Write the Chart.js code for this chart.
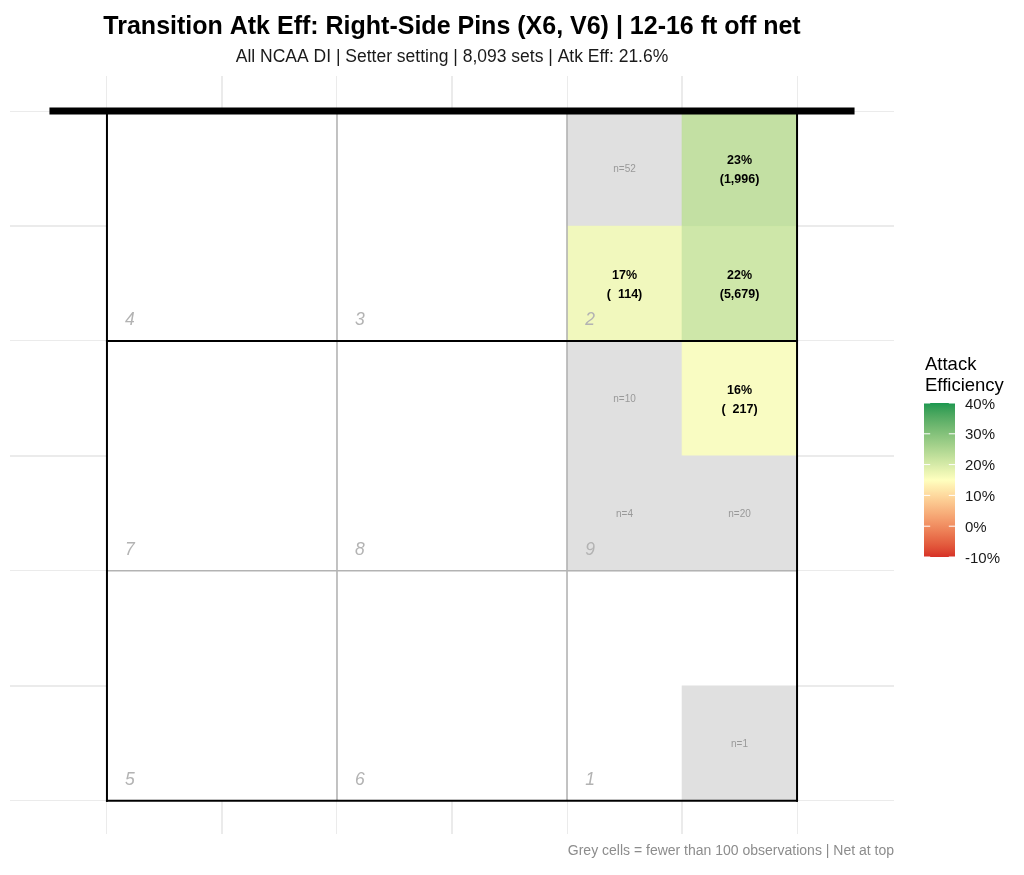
<!DOCTYPE html>
<html>
<head>
<meta charset="utf-8">
<title>Transition Atk Eff: Right-Side Pins</title>
<script src="https://cdn.jsdelivr.net/npm/chart.js@4.4.1/dist/chart.umd.min.js"></script>
<style>
  html, body { margin: 0; padding: 0; background: #fff; }
  #wrap { position: relative; width: 1024px; height: 875px; }
</style>
</head>
<body>
<div id="wrap"><canvas id="courtChart"></canvas></div>
<script>
// ---------------------- data ---------------------
// cells on a 6x6 court grid, col 0 = left, row 0 = end line, row 6 = net
var cellCol = [4, 5, 4, 5, 4, 5, 4, 5, 5];
var cellRow = [5, 5, 4, 4, 3, 3, 2, 2, 0];
var cellN   = [52, 1996, 114, 5679, 10, 217, 4, 20, 1];
var cellEff = [null, 0.232, 0.170, 0.216, null, 0.158, null, null, null];
var minObs = 100;

var zoneNames = ["4", "3", "2", "7", "8", "9", "5", "6", "1"];
var zoneCol = [0, 2, 4, 0, 2, 4, 0, 2, 4];
var zoneRow = [4, 4, 4, 2, 2, 2, 0, 0, 0];

// court geometry
var zoneLinesX = [2, 4];
var zoneLinesY = [2];
var courtLinesX = [0, 6];
var courtLinesY = [0, 4];
var courtSize = 6;
var netY = 6;
var netEnds = [-0.5, 6.5];

var gridBreaks = [0, 1, 2, 3, 4, 5, 6];
var legendBreaks = [0.4, 0.3, 0.2, 0.1, 0, -0.1];
var legendLabels = ["40%", "30%", "20%", "10%", "0%", "-10%"];
var effLimits = [-0.1, 0.4];
var effMid = 0.15;

var titleText = "Transition Atk Eff: Right-Side Pins (X6, V6) | 12-16 ft off net";
var subtitleText = "All NCAA DI | Setter setting | 8,093 sets | Atk Eff: 21.6%";
var captionText = "Grey cells = fewer than 100 observations | Net at top";

var FONT = '"Liberation Sans", Arial, Helvetica, sans-serif';
var lowCol = "#d73027", midCol = "#ffffbf", highCol = "#1a9850";
var greyCell = "#e0e0e0";
var cellAlpha = 0.9;

// ---------------------- colour scale (Lab, like gradient2) ---------------------
function hexToRgb(h) {
  return [parseInt(h.slice(1, 3), 16), parseInt(h.slice(3, 5), 16), parseInt(h.slice(5, 7), 16)];
}
function toLab(hex) {
  var c = hexToRgb(hex).map(function (v) {
    v /= 255;
    return v <= 0.04045 ? v / 12.92 : Math.pow((v + 0.055) / 1.055, 2.4);
  });
  var X = (0.4124564 * c[0] + 0.3575761 * c[1] + 0.1804375 * c[2]) / 0.95047;
  var Y = (0.2126729 * c[0] + 0.7151522 * c[1] + 0.0721750 * c[2]);
  var Z = (0.0193339 * c[0] + 0.1191920 * c[1] + 0.9503041 * c[2]) / 1.08883;
  var f = function (t) { return t > 0.008856 ? Math.cbrt(t) : 7.787 * t + 16 / 116; };
  var fx = f(X), fy = f(Y), fz = f(Z);
  return [116 * fy - 16, 500 * (fx - fy), 200 * (fy - fz)];
}
function fromLab(lab, alpha) {
  var fy = (lab[0] + 16) / 116, fx = fy + lab[1] / 500, fz = fy - lab[2] / 200;
  var inv = function (t) { return t * t * t > 0.008856 ? t * t * t : (t - 16 / 116) / 7.787; };
  var X = inv(fx) * 0.95047, Y = inv(fy), Z = inv(fz) * 1.08883;
  var r = 3.2404542 * X - 1.5371385 * Y - 0.4985314 * Z;
  var g = -0.9692660 * X + 1.8760108 * Y + 0.0415560 * Z;
  var b = 0.0556434 * X - 0.2040259 * Y + 1.0572252 * Z;
  var rgb = [r, g, b].map(function (v) {
    v = v <= 0.0031308 ? 12.92 * v : 1.055 * Math.pow(v, 1 / 2.4) - 0.055;
    return Math.round(Math.max(0, Math.min(1, v)) * 255);
  });
  return "rgba(" + rgb.join(",") + "," + (alpha == null ? 1 : alpha) + ")";
}
var labLow = toLab(lowCol), labMid = toLab(midCol), labHigh = toLab(highCol);
function effColor(v, alpha) {
  var half = Math.max(Math.abs(effLimits[0] - effMid), Math.abs(effLimits[1] - effMid));
  var t = Math.max(0, Math.min(1, (v - effMid) / half / 2 + 0.5));
  var a = t < 0.5 ? labLow : labMid, b = t < 0.5 ? labMid : labHigh;
  var k = t < 0.5 ? t * 2 : (t - 0.5) * 2;
  return fromLab([0, 1, 2].map(function (i) { return a[i] + (b[i] - a[i]) * k; }), alpha);
}

// ---------------------- datasets ---------------------
function seg(x0, y0, x1, y1, color, width, order, cap) {
  return {
    type: "line",
    data: [{x: x0, y: y0}, {x: x1, y: y1}],
    borderColor: color,
    borderWidth: width,
    borderCapStyle: cap || "butt",
    pointRadius: 0,
    fill: false,
    order: order
  };
}

var datasets = [{
  type: "bar",
  label: "cells",
  data: cellCol.map(function (c, i) { return {x: c + 0.5, y: [cellRow[i], cellRow[i] + 1]}; }),
  backgroundColor: cellN.map(function (n, i) { return n < minObs ? greyCell : effColor(cellEff[i], cellAlpha); }),
  borderWidth: 0,
  barPercentage: 1,
  categoryPercentage: 1,
  order: 10
}];
zoneLinesX.forEach(function (x) { datasets.push(seg(x, 0, x, courtSize, "#b3b3b3", 1.6, 5)); });
zoneLinesY.forEach(function (y) { datasets.push(seg(0, y, courtSize, y, "#b3b3b3", 1.6, 5)); });
courtLinesX.forEach(function (x) { datasets.push(seg(x, 0, x, courtSize, "#000000", 2, 3, "square")); });
courtLinesY.forEach(function (y) { datasets.push(seg(0, y, courtSize, y, "#000000", 2, 3, "square")); });
datasets.push(seg(netEnds[0], netY, netEnds[1], netY, "#000000", 7, 1));

// ---------------------- plugins ---------------------
var courtBg = {
  id: "courtBg",
  beforeDatasetsDraw: function (chart) {
    var sx = chart.scales.x, sy = chart.scales.y, ctx = chart.ctx;
    ctx.save();
    ctx.fillStyle = "#ffffff";
    var x0 = sx.getPixelForValue(0), x1 = sx.getPixelForValue(courtSize);
    var y0 = sy.getPixelForValue(courtSize), y1 = sy.getPixelForValue(0);
    ctx.fillRect(x0, y0, x1 - x0, y1 - y0);
    ctx.restore();
  }
};

var cellText = {
  id: "cellText",
  afterDatasetsDraw: function (chart) {
    var sx = chart.scales.x, sy = chart.scales.y, ctx = chart.ctx;
    ctx.save();
    ctx.textAlign = "center";
    ctx.textBaseline = "middle";
    cellCol.forEach(function (c, i) {
      var px = sx.getPixelForValue(c + 0.5), py = sy.getPixelForValue(cellRow[i] + 0.5);
      if (cellN[i] < minObs) {
        ctx.font = "10px " + FONT;
        ctx.fillStyle = "#999999";
        ctx.fillText("n=" + cellN[i], px, py + 1);
      } else {
        ctx.font = "bold 12.5px " + FONT;
        ctx.fillStyle = "#000000";
        ctx.fillText(Math.round(cellEff[i] * 100) + "%", px, py - 7.5);
        ctx.fillText("(" + cellN[i].toLocaleString("en-US").padStart(5, " ") + ")", px, py + 11.5);
      }
    });
    ctx.font = "italic 17.5px " + FONT;
    ctx.fillStyle = "#b3b3b3";
    zoneNames.forEach(function (z, i) {
      ctx.fillText(z, sx.getPixelForValue(zoneCol[i] + 0.2), sy.getPixelForValue(zoneRow[i] + 0.2) + 2);
    });
    ctx.restore();
  }
};

var sideLegend = {
  id: "sideLegend",
  afterDraw: function (chart) {
    var ctx = chart.ctx, area = chart.chartArea;
    var barL = 924, barW = 31, barTop = 403, barBot = 557;
    var yFor = function (v) {
      return barBot - (v - effLimits[0]) / (effLimits[1] - effLimits[0]) * (barBot - barTop);
    };
    ctx.save();
    ctx.fillStyle = "#000000";
    ctx.font = "18.5px " + FONT;
    ctx.textAlign = "left";
    ctx.textBaseline = "middle";
    ctx.fillText("Attack", 925, 365);
    ctx.fillText("Efficiency", 925, 386);

    var grad = ctx.createLinearGradient(0, barBot, 0, barTop);
    for (var s = 0; s <= 60; s++) {
      grad.addColorStop(s / 60, effColor(effLimits[0] + (effLimits[1] - effLimits[0]) * s / 60));
    }
    ctx.fillStyle = grad;
    ctx.fillRect(barL, barTop, barW, barBot - barTop);

    ctx.strokeStyle = "#ffffff";
    ctx.lineWidth = 1;
    ctx.font = "15px " + FONT;
    ctx.fillStyle = "#1a1a1a";
    legendBreaks.forEach(function (v, i) {
      var y = yFor(v);
      ctx.beginPath();
      ctx.moveTo(barL, y); ctx.lineTo(barL + barW / 5, y);
      ctx.moveTo(barL + barW, y); ctx.lineTo(barL + barW * 4 / 5, y);
      ctx.stroke();
      ctx.fillText(legendLabels[i], 965, y + 1.5);
    });

    ctx.font = "14px " + FONT;
    ctx.fillStyle = "#8c8c8c";
    ctx.textAlign = "right";
    ctx.fillText(captionText, area.right, 851);
    ctx.restore();
  }
};

// ---------------------- chart ---------------------
function gridAxis(min, max) {
  return {
    type: "linear",
    min: min,
    max: max,
    offset: false,
    afterBuildTicks: function (axis) {
      axis.ticks = gridBreaks.map(function (v) { return {value: v}; });
    },
    ticks: {display: false},
    border: {display: false},
    grid: {
      offset: false,
      drawTicks: false,
      color: "#ebebeb",
      lineWidth: function (c) { return c.tick && c.tick.value % 2 === 1 ? 2 : 1; }
    }
  };
}

new Chart("courtChart", {
  type: "bar",
  data: {datasets: datasets},
  options: {
    responsive: true,
    maintainAspectRatio: false,
    animation: false,
    events: [],
    layout: {padding: {left: 10, right: 130, top: 0, bottom: 41}},
    plugins: {
      legend: {display: false},
      tooltip: {enabled: false},
      title: {
        display: true,
        text: titleText,
        fullSize: false,
        color: "#000000",
        font: {family: FONT, size: 25, weight: "bold"},
        padding: {top: 12, bottom: 3}
      },
      subtitle: {
        display: true,
        text: subtitleText,
        fullSize: false,
        color: "#1a1a1a",
        font: {family: FONT, size: 17.5},
        padding: {top: 1.5, bottom: 8.5}
      }
    },
    scales: {
      x: gridAxis(-0.843, 6.843),
      y: gridAxis(-0.29, 6.305)
    }
  },
  plugins: [courtBg, cellText, sideLegend]
});
</script>
</body>
</html>
